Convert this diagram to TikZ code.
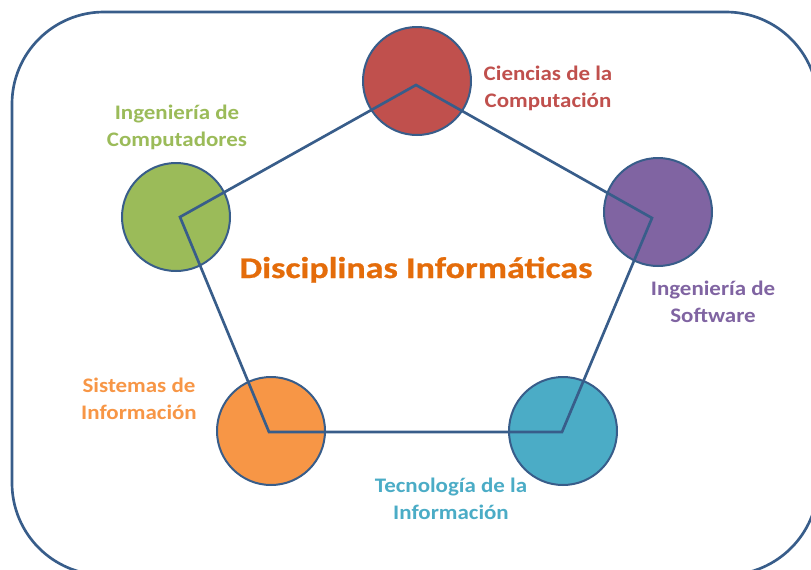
\documentclass[tikz,border=0pt]{standalone}
\usepackage{fontspec}
\setmainfont{Carlito}
\newfontfamily\LabelFont[FakeStretch=1.11]{Carlito}
\newfontfamily\TitleFont[FakeStretch=1.2,FakeBold=0.8]{Carlito}
\usepackage{tikz}
\usetikzlibrary{positioning}
\definecolor{Frame}{HTML}{385D8A}
\definecolor{CCRed}{HTML}{C0504D}
\definecolor{ICGreen}{HTML}{9BBB59}
\definecolor{ISPurple}{HTML}{8064A2}
\definecolor{SIOrange}{HTML}{F79646}
\definecolor{TITeal}{HTML}{4BACC6}
\definecolor{TitleOrange}{HTML}{E46C0A}
\newcommand{\DiscLabel}[5]{%
  \node[align=center,inner sep=0pt,text=#4,font=\LabelFont\fontsize{15.5}{20.25}\selectfont\bfseries] (#1) at (#2,#3) {#5};%
}

\begin{document}
\begin{tikzpicture}[x=0.75pt,y=-0.75pt]
\useasboundingbox (0,0) rectangle (811,569);
\clip (0,0) rectangle (811,569);
\draw[Frame,line width=2pt,rounded corners=69pt] (12,12) rectangle (818,575);
\foreach \n/\x/\y/\c in {cc/417/81/CCRed,ic/176/217/ICGreen,is/658/212/ISPurple,si/271/431/SIOrange,ti/563/431/TITeal} {
  \node[circle,fill=\c,draw=Frame,line width=1.5pt,minimum size=81pt,inner sep=0pt] (\n) at (\x,\y) {};
}
\coordinate (vcc) at (416,85);
\coordinate (vic) at (180,217);
\coordinate (vis) at (652,218);
\coordinate (vsi) at (269,432);
\coordinate (vti) at (562,432);
\draw[Frame,line width=2pt] (vcc) -- (vis) -- (vti) -- (vsi) -- (vic) -- cycle;
\node[anchor=base,text=TitleOrange,font=\TitleFont\fontsize{22.5}{27}\selectfont\bfseries] (title) at (416,278) {Disciplinas Informáticas};
\DiscLabel{lcc}{548}{88}{CCRed}{Ciencias de la\\Computación}
\DiscLabel{lic}{177}{127}{ICGreen}{Ingeniería de\\Computadores}
\DiscLabel{lis}{713}{302}{ISPurple}{Ingeniería de\\Software}
\DiscLabel{lsi}{139}{399}{SIOrange}{Sistemas de\\Información}
\DiscLabel{lti}{451}{499}{TITeal}{Tecnología de la\\Información}
\end{tikzpicture}
\end{document}
